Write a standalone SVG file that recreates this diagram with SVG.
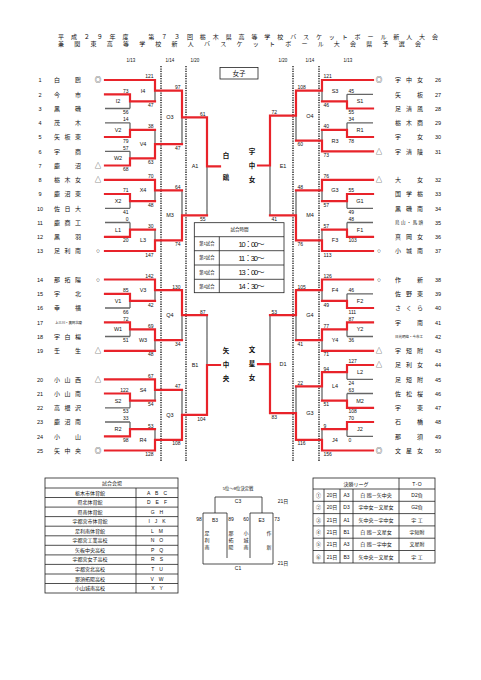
<svg xmlns="http://www.w3.org/2000/svg" width="481" height="680" viewBox="0 0 481 680">
<style>
text{font-family:"Liberation Sans","Noto Sans CJK JP",sans-serif;fill:#111}
.r{stroke:#e8232a;stroke-width:2.2;fill:none;stroke-linecap:square}
.g{stroke:#666;stroke-width:1.3;fill:none}
.d{stroke:#111;stroke-width:1.3;stroke-dasharray:1.3 1.1;fill:none}
.k{stroke:#222;stroke-width:0.8;fill:none}
.nm{font-size:6px}
.no{font-size:5.5px;text-anchor:middle}
.mk{font-size:6.5px;text-anchor:middle}
.sc{font-size:5px}
.le{text-anchor:end}
.lb{font-size:5.5px;text-anchor:middle}
.w{font-size:6.5px;font-weight:bold;text-anchor:middle}
.dt{font-size:4.5px;text-anchor:middle}
.tt{font-size:6px}
.sm{font-size:4.5px}
.c{text-anchor:middle}
</style>
<rect width="481" height="680" fill="#fff"/>
<g id="title">
<text x="58" y="38.5" class="tt" textLength="380" lengthAdjust="spacing">平成２９年度　第７３回栃木県高等学校バスケットボール新人大会</text>
<text x="58" y="45.5" class="tt" textLength="363" lengthAdjust="spacing">兼関東高等学校新人バスケットボール大会県予選会</text>
</g>
<g id="dates">
<text x="131" y="61.5" class="dt">1/13</text><text x="170" y="61.5" class="dt">1/14</text><text x="195" y="61.5" class="dt">1/20</text>
<text x="283" y="61.5" class="dt">1/20</text><text x="310" y="61.5" class="dt">1/14</text><text x="348" y="61.5" class="dt">1/13</text>
<path class="d" d="M161 66V462M186 66V462M293 66V462M319 66V462"/>
</g>
<g id="girls-label"><rect x="220" y="67.5" width="38" height="11.5" fill="#fff" stroke="#222" stroke-width="0.8"/><text x="239" y="75.6" class="c" font-size="6.5">女子</text></g>

<g id="connectors">
<path class="g" d="M105 108.5H130M105 122.8H130M105 151.3H130M105 208.3H130M105 222.5H130M105 308H130M105 336.5H130M105 407.8H130M105 422H130
M130 101.4V108.5M130 122.8V129.9M130 151.3V158.4M130 201.1V208.3M130 222.5V229.6M130 300.9V308M130 329.4V336.5M130 400.6V407.8M130 422V429.1
M155 90.7V101.4M155 129.9V144.1M155 190.4V201.1M155 229.6V240.3M155 290.2V300.9M155 340.1V350.8M155 389.9V400.6M155 429.1V439.8
M182 117.4V144.1M182 190.4V215.4M182 315.1V340.1M182 389.9V414.9M207 166.4V215.4M207 315.1V365"/>
<path class="r" d="M105 94.3H130M105 137H130M105 165.5H130M105 194H130M105 236.8H130M105 293.8H130M105 322.3H130M105 393.5H130M105 436.3H130
M105 80H155M105 179.8H155M105 251H155M105 279.5H155M105 350.8H155M105 379.3H155M105 450.5H155
M130 101.4H155M130 129.9H155M130 158.4H155M130 201.1H155M130 229.6H155M130 300.9H155M130 329.4H155M130 400.6H155M130 429.1H155
M155 90.7H182M155 144.1H182M155 190.4H182M155 240.3H182M155 290.2H182M155 340.1H182M155 389.9H182M155 439.8H182
M182 117.4H207M182 215.4H207M182 315.1H207M182 414.9H207M207 166.4H220M207 365H220
M130 94.3V101.4M130 129.9V137M130 158.4V165.5M130 194V201.1M130 229.6V236.8M130 293.8V300.9M130 322.3V329.4M130 393.5V400.6M130 429.1V436.3
M155 80V90.7M155 144.1V158.4M155 179.8V190.4M155 240.3V251M155 279.5V290.2M155 329.4V340.1M155 379.3V389.9M155 439.8V450.5
M182 90.7V117.4M182 215.4V240.3M182 290.2V315.1M182 414.9V439.8M207 117.4V166.4M207 365V414.9"/>
<path class="g" d="M373 94.3H347M373 122.8H347M373 208.3H347M373 222.5H347M373 293.8H347M373 336.5H347M373 379.3H347M373 393.5H347M373 436.3H347
M347 94.3V101.4M347 122.8V129.9M347 201.1V208.3M347 222.5V229.6M347 293.8V300.9M347 329.4V336.5M347 372.1V379.3M347 393.5V400.6M347 429.1V436.3
M322 90.7V101.4M322 129.9V140.6M322 190.4V201.1M322 229.6V240.3M322 290.2V300.9M322 340.1V350.8M322 386.3V400.6M322 429.1V439.8
M296 115.6V140.6M296 190.4V215.4M296 315.1V340.1M296 386.3V413.1M270 165.5V215.4M270 315.1V364.1"/>
<path class="r" d="M373 108.5H347M373 137H347M373 194H347M373 236.8H347M373 308H347M373 322.3H347M373 365H347M373 407.8H347M373 422H347
M373 80H322M373 151.3H322M373 179.8H322M373 251H322M373 279.5H322M373 350.8H322M373 450.5H322
M347 101.4H322M347 129.9H322M347 201.1H322M347 229.6H322M347 300.9H322M347 329.4H322M347 372.1H322M347 400.6H322M347 429.1H322
M322 90.7H296M322 140.6H296M322 190.4H296M322 240.3H296M322 290.2H296M322 340.1H296M322 386.3H296M322 439.8H296
M296 115.6H270M296 215.4H270M296 315.1H270M296 413.1H270M270 165.5H258M270 364.1H258
M347 101.4V108.5M347 129.9V137M347 194V201.1M347 229.6V236.8M347 300.9V308M347 322.3V329.4M347 365V372.1M347 400.6V407.8M347 422V429.1
M322 80V90.7M322 140.6V151.3M322 179.8V190.4M322 240.3V251M322 279.5V290.2M322 329.4V340.1M322 372.1V386.3M322 439.8V450.5
M296 90.7V115.6M296 215.4V240.3M296 290.2V315.1M296 413.1V439.8M270 115.6V165.5M270 364.1V413.1"/>
</g>

<g id="teams-left">
<g id="t1"><text x="40" y="82.2" class="no">1</text><text x="54" y="82.2" class="nm" textLength="27" lengthAdjust="spacing">白　鴎</text><text x="98" y="82.4" class="mk">◎</text></g>
<g id="t2"><text x="40" y="96.5" class="no">2</text><text x="54" y="96.5" class="nm" textLength="27" lengthAdjust="spacing">今　市</text></g>
<g id="t3"><text x="40" y="110.7" class="no">3</text><text x="54" y="110.7" class="nm" textLength="27" lengthAdjust="spacing">黒　磯</text></g>
<g id="t4"><text x="40" y="125" class="no">4</text><text x="54" y="125" class="nm" textLength="27" lengthAdjust="spacing">茂　木</text></g>
<g id="t5"><text x="40" y="139.2" class="no">5</text><text x="54" y="139.2" class="nm" textLength="27" lengthAdjust="spacing">矢板東</text></g>
<g id="t6"><text x="40" y="153.5" class="no">6</text><text x="54" y="153.5" class="nm" textLength="27" lengthAdjust="spacing">宇　商</text></g>
<g id="t7"><text x="40" y="167.7" class="no">7</text><text x="54" y="167.7" class="nm" textLength="27" lengthAdjust="spacing">鹿　沼</text><text x="98" y="167.9" class="mk">△</text></g>
<g id="t8"><text x="40" y="182" class="no">8</text><text x="54" y="182" class="nm" textLength="27" lengthAdjust="spacing">栃木女</text><text x="98" y="182.2" class="mk">△</text></g>
<g id="t9"><text x="40" y="196.2" class="no">9</text><text x="54" y="196.2" class="nm" textLength="27" lengthAdjust="spacing">鹿沼東</text></g>
<g id="t10"><text x="40" y="210.5" class="no">10</text><text x="54" y="210.5" class="nm" textLength="27" lengthAdjust="spacing">佐日大</text></g>
<g id="t11"><text x="40" y="224.7" class="no">11</text><text x="54" y="224.7" class="nm" textLength="27" lengthAdjust="spacing">鹿商工</text></g>
<g id="t12"><text x="40" y="239" class="no">12</text><text x="54" y="239" class="nm" textLength="27" lengthAdjust="spacing">黒　羽</text></g>
<g id="t13"><text x="40" y="253.2" class="no">13</text><text x="54" y="253.2" class="nm" textLength="27" lengthAdjust="spacing">足利南</text><text x="98" y="253.4" class="mk">○</text></g>
<g id="t14"><text x="40" y="281.7" class="no">14</text><text x="54" y="281.7" class="nm" textLength="27" lengthAdjust="spacing">那拓陽</text><text x="98" y="281.9" class="mk">○</text></g>
<g id="t15"><text x="40" y="296" class="no">15</text><text x="54" y="296" class="nm" textLength="27" lengthAdjust="spacing">宇　北</text></g>
<g id="t16"><text x="40" y="310.2" class="no">16</text><text x="54" y="310.2" class="nm" textLength="27" lengthAdjust="spacing">幸　福</text></g>
<g id="t17"><text x="40" y="324.5" class="no">17</text><text x="55" y="324" font-size="3.5" textLength="27" lengthAdjust="spacing">上三川・真岡北陵</text></g>
<g id="t18"><text x="40" y="338.7" class="no">18</text><text x="54" y="338.7" class="nm" textLength="27" lengthAdjust="spacing">宇白楊</text></g>
<g id="t19"><text x="40" y="353" class="no">19</text><text x="54" y="353" class="nm" textLength="27" lengthAdjust="spacing">壬　生</text><text x="98" y="353.2" class="mk">△</text></g>
<g id="t20"><text x="40" y="381.5" class="no">20</text><text x="54" y="381.5" class="nm" textLength="27" lengthAdjust="spacing">小山西</text><text x="98" y="381.7" class="mk">△</text></g>
<g id="t21"><text x="40" y="395.7" class="no">21</text><text x="54" y="395.7" class="nm" textLength="27" lengthAdjust="spacing">小山南</text></g>
<g id="t22"><text x="40" y="410" class="no">22</text><text x="54" y="410" class="nm" textLength="27" lengthAdjust="spacing">高根沢</text></g>
<g id="t23"><text x="40" y="424.2" class="no">23</text><text x="54" y="424.2" class="nm" textLength="27" lengthAdjust="spacing">鹿沼南</text></g>
<g id="t24"><text x="40" y="438.5" class="no">24</text><text x="54" y="438.5" class="nm" textLength="27" lengthAdjust="spacing">小　山</text></g>
<g id="t25"><text x="40" y="452.7" class="no">25</text><text x="54" y="452.7" class="nm" textLength="27" lengthAdjust="spacing">矢中央</text><text x="98" y="452.9" class="mk">◎</text></g>
</g>

<g id="teams-right">
<g id="t26"><text x="438" y="82.2" class="no">26</text><text x="395" y="82.2" class="nm" textLength="28" lengthAdjust="spacing">宇中女</text><text x="379" y="82.4" class="mk">◎</text></g>
<g id="t27"><text x="438" y="96.5" class="no">27</text><text x="395" y="96.5" class="nm" textLength="28" lengthAdjust="spacing">矢　板</text></g>
<g id="t28"><text x="438" y="110.7" class="no">28</text><text x="395" y="110.7" class="nm" textLength="28" lengthAdjust="spacing">足清風</text></g>
<g id="t29"><text x="438" y="125" class="no">29</text><text x="395" y="125" class="nm" textLength="28" lengthAdjust="spacing">栃木商</text></g>
<g id="t30"><text x="438" y="139.2" class="no">30</text><text x="395" y="139.2" class="nm" textLength="28" lengthAdjust="spacing">宇　女</text></g>
<g id="t31"><text x="438" y="153.5" class="no">31</text><text x="395" y="153.5" class="nm" textLength="28" lengthAdjust="spacing">宇清陵</text><text x="379" y="153.7" class="mk">△</text></g>
<g id="t32"><text x="438" y="182" class="no">32</text><text x="395" y="182" class="nm" textLength="28" lengthAdjust="spacing">大　女</text><text x="379" y="182.2" class="mk">△</text></g>
<g id="t33"><text x="438" y="196.2" class="no">33</text><text x="395" y="196.2" class="nm" textLength="28" lengthAdjust="spacing">国学栃</text></g>
<g id="t34"><text x="438" y="210.5" class="no">34</text><text x="395" y="210.5" class="nm" textLength="28" lengthAdjust="spacing">黒磯南</text></g>
<g id="t35"><text x="438" y="224.7" class="no">35</text><text x="395" y="224.4" class="sm" textLength="28" lengthAdjust="spacing">烏山・馬頭</text></g>
<g id="t36"><text x="438" y="239" class="no">36</text><text x="395" y="239" class="nm" textLength="28" lengthAdjust="spacing">真岡女</text></g>
<g id="t37"><text x="438" y="253.2" class="no">37</text><text x="395" y="253.2" class="nm" textLength="28" lengthAdjust="spacing">小城南</text><text x="379" y="253.4" class="mk">○</text></g>
<g id="t38"><text x="438" y="281.7" class="no">38</text><text x="395" y="281.7" class="nm" textLength="28" lengthAdjust="spacing">作　新</text><text x="379" y="281.9" class="mk">○</text></g>
<g id="t39"><text x="438" y="296" class="no">39</text><text x="395" y="296" class="nm" textLength="28" lengthAdjust="spacing">佐野東</text></g>
<g id="t40"><text x="438" y="310.2" class="no">40</text><text x="395" y="310.2" class="nm" textLength="28" lengthAdjust="spacing">さくら</text></g>
<g id="t41"><text x="438" y="324.5" class="no">41</text><text x="395" y="324.5" class="nm" textLength="28" lengthAdjust="spacing">宇　南</text></g>
<g id="t42"><text x="438" y="338.7" class="no">42</text><text x="395" y="338.3" font-size="3.5" textLength="28" lengthAdjust="spacing">日光明峰・今市工</text></g>
<g id="t43"><text x="438" y="353" class="no">43</text><text x="395" y="353" class="nm" textLength="28" lengthAdjust="spacing">宇短附</text><text x="379" y="353.2" class="mk">△</text></g>
<g id="t44"><text x="438" y="367.2" class="no">44</text><text x="395" y="367.2" class="nm" textLength="28" lengthAdjust="spacing">足利女</text><text x="379" y="367.4" class="mk">△</text></g>
<g id="t45"><text x="438" y="381.5" class="no">45</text><text x="395" y="381.5" class="nm" textLength="28" lengthAdjust="spacing">足短附</text></g>
<g id="t46"><text x="438" y="395.7" class="no">46</text><text x="395" y="395.7" class="nm" textLength="28" lengthAdjust="spacing">佐松桜</text></g>
<g id="t47"><text x="438" y="410" class="no">47</text><text x="395" y="410" class="nm" textLength="28" lengthAdjust="spacing">宇　東</text></g>
<g id="t48"><text x="438" y="424.2" class="no">48</text><text x="395" y="424.2" class="nm" textLength="28" lengthAdjust="spacing">石　橋</text></g>
<g id="t49"><text x="438" y="438.5" class="no">49</text><text x="395" y="438.5" class="nm" textLength="28" lengthAdjust="spacing">那　須</text></g>
<g id="t50"><text x="438" y="452.7" class="no">50</text><text x="395" y="452.7" class="nm" textLength="28" lengthAdjust="spacing">文星女</text><text x="379" y="452.9" class="mk">◎</text></g>
</g>

<g id="matches-left" class="sc">
<g id="I2"><text x="118" y="103.4" class="lb">I2</text><text x="128.5" y="92.7" class="le">73</text><text x="128.5" y="114.1" class="le">56</text></g>
<g id="V2"><text x="118" y="131.9" class="lb">V2</text><text x="128.5" y="121.2" class="le">14</text><text x="128.5" y="142.6" class="le">79</text></g>
<g id="W2"><text x="118" y="160.4" class="lb">W2</text><text x="128.5" y="149.7" class="le">57</text><text x="128.5" y="171.1" class="le">68</text></g>
<g id="X2"><text x="118" y="203.1" class="lb">X2</text><text x="128.5" y="192.4" class="le">71</text><text x="128.5" y="213.9" class="le">41</text></g>
<g id="L1"><text x="118" y="231.6" class="lb">L1</text><text x="128.5" y="220.9" class="le">0</text><text x="128.5" y="242.4" class="le">20</text></g>
<g id="V1"><text x="118" y="302.9" class="lb">V1</text><text x="128.5" y="292.2" class="le">85</text><text x="128.5" y="313.6" class="le">66</text></g>
<g id="W1"><text x="118" y="331.4" class="lb">W1</text><text x="128.5" y="320.7" class="le">72</text><text x="128.5" y="342.1" class="le">51</text></g>
<g id="S2"><text x="118" y="402.6" class="lb">S2</text><text x="128.5" y="391.9" class="le">122</text><text x="128.5" y="413.4" class="le">53</text></g>
<g id="R2"><text x="118" y="431.1" class="lb">R2</text><text x="128.5" y="420.4" class="le">33</text><text x="128.5" y="441.9" class="le">98</text></g>
<g id="I4"><text x="143" y="92.7" class="lb">I4</text><text x="153.5" y="78.4" class="le">121</text><text x="153.5" y="107" class="le">47</text></g>
<g id="V4"><text x="143" y="146.1" class="lb">V4</text><text x="153.5" y="128.3" class="le">38</text><text x="153.5" y="164" class="le">63</text></g>
<g id="X4"><text x="143" y="192.4" class="lb">X4</text><text x="153.5" y="178.2" class="le">70</text><text x="153.5" y="206.7" class="le">48</text></g>
<g id="L3"><text x="143" y="242.3" class="lb">L3</text><text x="153.5" y="228" class="le">30</text><text x="153.5" y="256.6" class="le">147</text></g>
<g id="V3"><text x="143" y="292.2" class="lb">V3</text><text x="153.5" y="277.9" class="le">142</text><text x="153.5" y="306.5" class="le">42</text></g>
<g id="W3"><text x="143" y="342.1" class="lb">W3</text><text x="153.5" y="327.8" class="le">69</text><text x="153.5" y="356.4" class="le">48</text></g>
<g id="S4"><text x="143" y="391.9" class="lb">S4</text><text x="153.5" y="377.7" class="le">67</text><text x="153.5" y="406.2" class="le">54</text></g>
<g id="R4"><text x="143" y="441.8" class="lb">R4</text><text x="153.5" y="427.5" class="le">53</text><text x="153.5" y="456.1" class="le">128</text></g>
<g id="O3"><text x="170" y="119.4" class="lb">O3</text><text x="180.5" y="89.1" class="le">97</text><text x="180.5" y="149.7" class="le">47</text></g>
<g id="M3"><text x="170" y="217.4" class="lb">M3</text><text x="180.5" y="188.8" class="le">64</text><text x="180.5" y="245.9" class="le">74</text></g>
<g id="Q4"><text x="170" y="317.1" class="lb">Q4</text><text x="180.5" y="288.6" class="le">130</text><text x="180.5" y="345.7" class="le">34</text></g>
<g id="Q3"><text x="170" y="416.9" class="lb">Q3</text><text x="180.5" y="388.3" class="le">47</text><text x="180.5" y="445.4" class="le">108</text></g>
<g id="A1"><text x="195" y="168.4" class="lb">A1</text><text x="205.5" y="115.8" class="le">61</text><text x="205.5" y="221" class="le">55</text></g>
<g id="B1"><text x="195" y="367" class="lb">B1</text><text x="205.5" y="313.5" class="le">87</text><text x="205.5" y="420.5" class="le">104</text></g>
</g>

<g id="matches-right" class="sc">
<g id="S1"><text x="360" y="103.4" class="lb">S1</text><text x="348.5" y="92.7">45</text><text x="348.5" y="114.1">55</text></g>
<g id="R1"><text x="360" y="131.9" class="lb">R1</text><text x="348.5" y="121.2">34</text><text x="348.5" y="142.6">78</text></g>
<g id="G1"><text x="360" y="203.1" class="lb">G1</text><text x="348.5" y="192.4">55</text><text x="348.5" y="213.9">49</text></g>
<g id="F1"><text x="360" y="231.6" class="lb">F1</text><text x="348.5" y="220.9">48</text><text x="348.5" y="242.4">103</text></g>
<g id="F2"><text x="360" y="302.9" class="lb">F2</text><text x="348.5" y="292.2">46</text><text x="348.5" y="313.6">111</text></g>
<g id="Y2"><text x="360" y="331.4" class="lb">Y2</text><text x="348.5" y="320.7">87</text><text x="348.5" y="342.1">36</text></g>
<g id="L2"><text x="360" y="374.1" class="lb">L2</text><text x="348.5" y="363.4">127</text><text x="348.5" y="384.9">24</text></g>
<g id="M2"><text x="360" y="402.6" class="lb">M2</text><text x="348.5" y="391.9">63</text><text x="348.5" y="413.4">108</text></g>
<g id="J2"><text x="360" y="431.1" class="lb">J2</text><text x="348.5" y="420.4">70</text><text x="348.5" y="441.9">0</text></g>
<g id="S3"><text x="335" y="92.7" class="lb">S3</text><text x="323.5" y="78.4">121</text><text x="323.5" y="107">46</text></g>
<g id="R3"><text x="335" y="142.6" class="lb">R3</text><text x="323.5" y="128.3">40</text><text x="323.5" y="156.9">73</text></g>
<g id="G3"><text x="335" y="192.4" class="lb">G3</text><text x="323.5" y="178.2">76</text><text x="323.5" y="206.7">57</text></g>
<g id="F3"><text x="335" y="242.3" class="lb">F3</text><text x="323.5" y="228">57</text><text x="323.5" y="256.6">113</text></g>
<g id="F4"><text x="335" y="292.2" class="lb">F4</text><text x="323.5" y="277.9">126</text><text x="323.5" y="306.5">49</text></g>
<g id="Y4"><text x="335" y="342.1" class="lb">Y4</text><text x="323.5" y="327.8">77</text><text x="323.5" y="356.4">71</text></g>
<g id="L4"><text x="335" y="388.3" class="lb">L4</text><text x="323.5" y="370.5">94</text><text x="323.5" y="406.2">51</text></g>
<g id="J4"><text x="335" y="441.8" class="lb">J4</text><text x="323.5" y="427.5">9</text><text x="323.5" y="456.1">156</text></g>
<g id="O4"><text x="310" y="117.6" class="lb">O4</text><text x="297.5" y="89.1">108</text><text x="297.5" y="146.2">60</text></g>
<g id="M4"><text x="310" y="217.4" class="lb">M4</text><text x="297.5" y="188.8">48</text><text x="297.5" y="245.9">76</text></g>
<g id="G4"><text x="310" y="317.1" class="lb">G4</text><text x="297.5" y="288.6">105</text><text x="297.5" y="345.7">41</text></g>
<g id="G3b"><text x="310" y="415.1" class="lb">G3</text><text x="297.5" y="384.7">22</text><text x="297.5" y="445.4">116</text></g>
<g id="E1"><text x="283" y="167.5" class="lb">E1</text><text x="271.5" y="114">72</text><text x="271.5" y="221">41</text></g>
<g id="D1"><text x="283" y="366.1" class="lb">D1</text><text x="271.5" y="313.5">53</text><text x="271.5" y="418.7">83</text></g>
</g>

<g id="winners">
<text x="226" y="157.8" class="w">白</text><text x="226" y="179.8" class="w">鴎</text>
<text x="226" y="353.3" class="w">矢</text><text x="226" y="367.3" class="w">中</text><text x="226" y="381.3" class="w">央</text>
<text x="252" y="153.8" class="w">宇</text><text x="252" y="167.8" class="w">中</text><text x="252" y="181.8" class="w">女</text>
<text x="252" y="352.3" class="w">文</text><text x="252" y="366.3" class="w">星</text><text x="252" y="380.3" class="w">女</text>
</g>

<g id="timetable">
<rect x="194.3" y="222.7" width="89.7" height="70" fill="#fff" class="k"/>
<path class="k" d="M194.3 236.7H284M194.3 250.7H284M194.3 265H284M194.3 279.3H284M219.3 236.7V292.7"/>
<text x="239.5" y="231.2" class="c" font-size="4.5">試合時間</text>
<text x="206.8" y="245.3" class="c" font-size="4.3">第1試合</text><text x="238.5" y="246.6" font-size="7.5" textLength="26" lengthAdjust="spacing">10：00～</text>
<text x="206.8" y="259.4" class="c" font-size="4.3">第2試合</text><text x="238.5" y="260.7" font-size="7.5" textLength="26" lengthAdjust="spacing">11：30～</text>
<text x="206.8" y="273.7" class="c" font-size="4.3">第3試合</text><text x="238.5" y="275" font-size="7.5" textLength="26" lengthAdjust="spacing">13：00～</text>
<text x="206.8" y="287.6" class="c" font-size="4.3">第4試合</text><text x="238.5" y="288.9" font-size="7.5" textLength="26" lengthAdjust="spacing">14：30～</text>
</g>

<g id="venues">
<rect x="45" y="478" width="133" height="115" fill="none" class="k"/>
<path class="k" d="M45 488H178M45 497.5H178M45 507.1H178M45 516.6H178M45 526.2H178M45 535.8H178M45 545.3H178M45 554.9H178M45 564.4H178M45 574H178M45 583.5H178M136 488V593"/>
<g font-size="5" class="c">
<text x="112" y="485">試合会場</text>
<text x="90" y="494.5">栃木市体育館</text><text x="157" y="494.5">A　B　C</text>
<text x="90" y="504">県北体育館</text><text x="157" y="504">D　E　F</text>
<text x="90" y="513.6">県南体育館</text><text x="157" y="513.6">G　H</text>
<text x="90" y="523.1">宇都宮市体育館</text><text x="157" y="523.1">I　J　K</text>
<text x="90" y="532.7">足利南体育館</text><text x="157" y="532.7">L　M</text>
<text x="90" y="542.2">宇都宮工業高校</text><text x="157" y="542.2">N　O</text>
<text x="90" y="551.8">矢板中央高校</text><text x="157" y="551.8">P　Q</text>
<text x="90" y="561.4">宇都宮女子高校</text><text x="157" y="561.4">R　S</text>
<text x="90" y="570.9">宇都宮北高校</text><text x="157" y="570.9">T　U</text>
<text x="90" y="580.5">那須拓陽高校</text><text x="157" y="580.5">V　W</text>
<text x="90" y="590">小山城南高校</text><text x="157" y="590">X　Y</text>
</g>
</g>

<g id="placement">
<text x="238" y="489.5" class="c" font-size="4.3">5位～8位決定戦</text>
<path class="k" d="M215 513V497H262V513M203 528V513H227V528M250 528V513H273V528M203 528V558M227 528V558M250 528V558M273 528V558M203 558V564H273V558"/>
<g font-size="5" class="c">
<text x="238" y="503">C3</text><text x="283" y="503">21日</text>
<text x="215" y="521.5">B3</text><text x="261.5" y="521.5">E3</text>
<text x="199" y="521">98</text><text x="231" y="521">89</text><text x="246" y="521">60</text><text x="277" y="521">73</text>
<text x="238" y="570">C1</text><text x="283" y="565">21日</text>
</g>
<g font-size="5" class="c">
<text x="207" y="535">足</text><text x="207" y="542">利</text><text x="207" y="549">南</text>
<text x="231" y="535">那</text><text x="231" y="542">拓</text><text x="231" y="549">陽</text>
<text x="246" y="535">小</text><text x="246" y="542">城</text><text x="246" y="549">南</text>
<text x="269" y="535">作</text><text x="269" y="549">新</text>
</g>
</g>

<g id="final-league">
<rect x="313" y="478" width="122" height="85" fill="none" class="k"/>
<path class="k" d="M313 489H435M313 501.3H435M313 513.6H435M313 525.9H435M313 538.2H435M313 550.5H435M324 489V563M340 489V563M353 489V563M399 478V563"/>
<g font-size="5" class="c">
<text x="356" y="485.5">決勝リーグ</text><text x="417" y="485.5">T･O</text>
<text x="318.5" y="497">①</text><text x="332" y="497">20日</text><text x="346.5" y="497">A3</text><text x="376" y="497">白 鴎－矢中央</text><text x="417" y="497">D2負</text>
<text x="318.5" y="509.3">②</text><text x="332" y="509.3">20日</text><text x="346.5" y="509.3">D3</text><text x="376" y="509.3">宇中女－文星女</text><text x="417" y="509.3">G2負</text>
<text x="318.5" y="521.6">③</text><text x="332" y="521.6">21日</text><text x="346.5" y="521.6">A1</text><text x="376" y="521.6">矢中央－宇中女</text><text x="417" y="521.6">宇 工</text>
<text x="318.5" y="533.9">④</text><text x="332" y="533.9">21日</text><text x="346.5" y="533.9">B1</text><text x="376" y="533.9">白 鴎－文星女</text><text x="417" y="533.9">宇短附</text>
<text x="318.5" y="546.2">⑤</text><text x="332" y="546.2">21日</text><text x="346.5" y="546.2">A3</text><text x="376" y="546.2">白 鴎－宇中女</text><text x="417" y="546.2">文星附</text>
<text x="318.5" y="558.5">⑥</text><text x="332" y="558.5">21日</text><text x="346.5" y="558.5">B3</text><text x="376" y="558.5">矢中央－文星女</text><text x="417" y="558.5">宇 工</text>
</g>
</g>
</svg>
